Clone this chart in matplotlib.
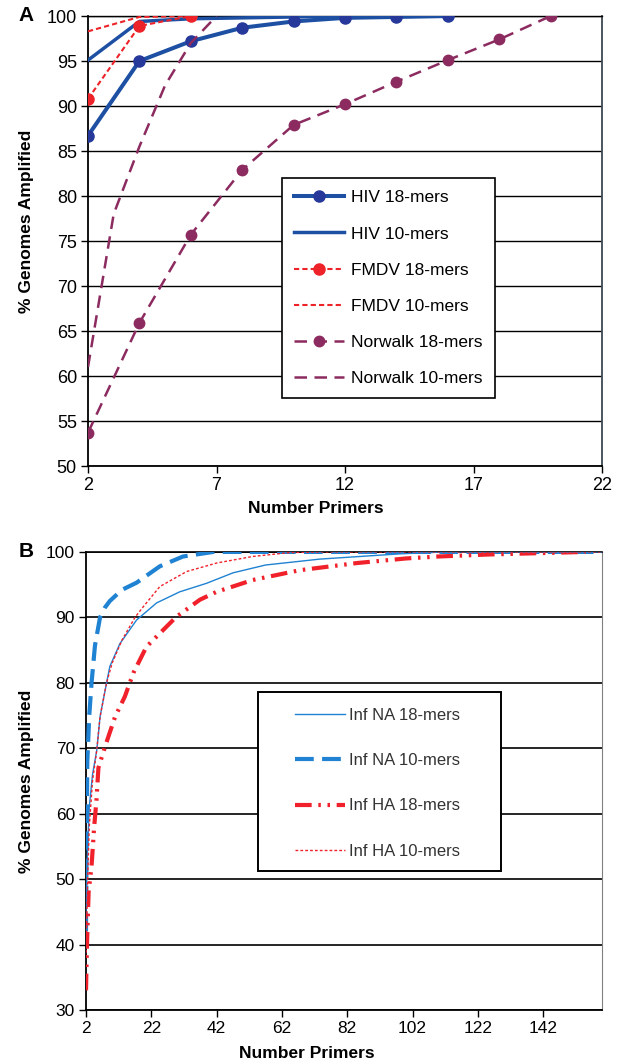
import matplotlib

matplotlib.use("Agg")
import matplotlib.pyplot as plt
from matplotlib.patches import Rectangle
from matplotlib.ticker import FixedLocator

plt.rcParams["font.family"] = ["Liberation Sans", "DejaVu Sans"]

# Panel A data
hiv18_x = [2, 4, 6, 8, 10, 12, 14, 16]
hiv18_y = [86.7, 95.0, 97.2, 98.7, 99.4, 99.8, 99.9, 100.0]
hiv10_x = [2, 4, 6, 8, 10, 12, 14, 16]
hiv10_y = [95.1, 99.4, 99.7, 99.8, 99.9, 100.0, 100.0, 100.0]
fmdv18_x = [2, 4, 6]
fmdv18_y = [90.8, 98.9, 100.0]
fmdv10_x = [2, 4, 6]
fmdv10_y = [98.3, 99.9, 100.0]
nor18_x = [2, 4, 6, 8, 10, 12, 14, 16, 18, 20]
nor18_y = [53.7, 65.9, 75.7, 82.9, 87.9, 90.2, 92.7, 95.1, 97.4, 100.0]
nor10_x = [2, 3, 4, 5, 6, 7]
nor10_y = [61.0, 78.0, 85.5, 92.3, 97.0, 100.0]

# Panel B data
na10_x = [2, 2.1, 2.4, 3.0, 3.7, 4.75, 6.3, 7.8, 9.3, 13, 17.5, 24.6, 31.7, 41, 160]
na10_y = [42, 50, 68, 75, 80, 85.7, 90, 91.5, 92.5, 94.2, 95.3, 97.8, 99.3, 100, 100]
na18_x = [2, 2.5, 3, 4, 5.3, 6.3, 8.3, 9.3, 12.4, 17.5, 23.6, 30.7, 38.9, 47, 57, 73.6, 98, 112, 160]
na18_y = [45, 55, 61, 66, 69.7, 74.8, 80, 82.5, 86, 89.6, 92.2, 93.9, 95.2, 96.8, 98, 98.9, 99.7, 100, 100]
ha10_x = [2, 2.5, 3, 4, 5.3, 6.3, 8.3, 10, 13, 17, 19.5, 24.6, 32.8, 42, 53, 64.4, 75, 160]
ha10_y = [38, 50, 58, 65, 69.7, 74.8, 80, 83, 86.5, 90, 91.6, 94.7, 97, 98.3, 99.3, 99.9, 100, 100]
ha18_x = [2, 2.3, 2.8, 3.7, 4.5, 5.2, 5.8, 7.8, 10.9, 13.9, 16.5, 20.5, 26.7, 29.7, 36.9, 42,
          53, 67.4, 85, 100, 110, 125, 140, 155]
ha18_y = [33, 40, 48, 52, 58, 62, 67, 70.2, 74.8, 77.9, 81.5, 85.5, 88.6, 90.1, 92.7, 93.9,
          95.7, 97.2, 98.3, 99.0, 99.3, 99.6, 99.8, 100]

blue_dark = "#1d4fa3"
blue_marker = "#26389a"
red = "#ee2229"
plum = "#8c2b5f"
blue_b = "#1f82d2"
red_b = "#f0212b"

fig = plt.figure(figsize=(6.25, 10.63), dpi=100)

# ---- Panel A ----
ax = fig.add_axes([0.1408, 0.5616, 0.8224, 0.4233])
ax.plot(hiv18_x, hiv18_y, color=blue_dark, lw=2.9, marker="o", ms=8,
        mfc=blue_marker, mec=blue_marker, label="HIV 18-mers", zorder=5)
ax.plot(hiv10_x, hiv10_y, color=blue_dark, lw=2.5, label="HIV 10-mers", zorder=4)
ax.plot(fmdv18_x, fmdv18_y, color=red, lw=1.5, dashes=(2.5, 1.5), marker="o", ms=8,
        mfc=red, mec=red, label="FMDV 18-mers", zorder=6)
ax.plot(fmdv10_x, fmdv10_y, color=red, lw=1.5, dashes=(2.5, 1.5), label="FMDV 10-mers", zorder=6)
ax.plot(nor18_x, nor18_y, color=plum, lw=1.8, dashes=(5, 3), marker="o", ms=7.5,
        mfc=plum, mec=plum, label="Norwalk 18-mers", zorder=5)
ax.plot(nor10_x, nor10_y, color=plum, lw=1.8, dashes=(5, 3), label="Norwalk 10-mers", zorder=5)

ax.set_xlim(2, 22)
ax.set_ylim(50, 100)
ax.xaxis.set_major_locator(FixedLocator([2, 7, 12, 17, 22]))
ax.yaxis.set_major_locator(FixedLocator(list(range(50, 101, 5))))
ax.grid(axis="y", color="black", lw=1.0)
ax.set_axisbelow(True)
ax.tick_params(labelsize=13, direction="out", length=5, width=1, pad=3)
for side in ["left", "bottom"]:
    ax.spines[side].set_linewidth(1.3)
ax.spines["right"].set_color("#3c4850")
ax.spines["right"].set_linewidth(1.3)
ax.spines["top"].set_linewidth(1.0)

leg = ax.legend(loc="upper left", bbox_to_anchor=(0.377, 0.64), borderaxespad=0,
                fontsize=12.5, frameon=True, fancybox=False, framealpha=1,
                edgecolor="black", handlelength=2.9, labelspacing=1.21,
                borderpad=0.7, handletextpad=0.4)
leg.get_frame().set_linewidth(1.2)

fig.text(0.029, 0.985, "A", fontsize=15, fontweight="bold", ha="left", va="center")
fig.text(0.042, 0.792, "% Genomes Amplified", rotation=90, fontsize=12.5,
         fontweight="bold", ha="center", va="center")
fig.text(0.506, 0.522, "Number Primers", fontsize=12.5, fontweight="bold",
         ha="center", va="center")

# ---- Panel B ----
bx = fig.add_axes([0.1376, 0.0499, 0.8256, 0.4309])
bx.plot(na18_x, na18_y, color=blue_b, lw=1.0, label="Inf NA 18-mers", zorder=4)
bx.plot(na10_x, na10_y, color=blue_b, lw=3.0, dashes=(4.5, 2), label="Inf NA 10-mers", zorder=3)
bx.plot(ha18_x, ha18_y, color=red_b, lw=3.0, dashes=(4, 1.6, 0.6, 1.6, 0.6, 1.6),
        label="Inf HA 18-mers", zorder=3)
bx.plot(ha10_x, ha10_y, color=red_b, lw=1.0, dashes=(2, 1.5), label="Inf HA 10-mers", zorder=5)

bx.set_xlim(2, 160)
bx.set_ylim(30, 100)
bx.xaxis.set_major_locator(FixedLocator(list(range(2, 143, 20))))
bx.yaxis.set_major_locator(FixedLocator(list(range(30, 101, 10))))
bx.grid(axis="y", color="black", lw=1.2)
bx.set_axisbelow(True)
bx.tick_params(labelsize=12.5, direction="out", length=5, width=1, pad=3)
for side in ["left", "bottom"]:
    bx.spines[side].set_linewidth(1.3)
bx.spines["right"].set_color("#808080")
bx.spines["right"].set_linestyle((0, (1, 1)))
bx.spines["top"].set_linewidth(1.2)

# legend box drawn separately so it can be wider than its contents
bx.add_patch(Rectangle((0.3333, 0.3035), 0.4707, 0.3905, transform=bx.transAxes,
                       facecolor="white", edgecolor="black", lw=1.4, zorder=6))
leg_b = bx.legend(loc="upper left", bbox_to_anchor=(0.405, 0.659), borderaxespad=0,
                  fontsize=12, frameon=False, handlelength=3.0, labelspacing=1.81,
                  borderpad=0, handletextpad=0.25)
leg_b.set_zorder(7)
for t in leg_b.get_texts():
    t.set_color("#333333")

fig.text(0.029, 0.481, "B", fontsize=15, fontweight="bold", ha="left", va="center")
fig.text(0.042, 0.265, "% Genomes Amplified", rotation=90, fontsize=12.5,
         fontweight="bold", ha="center", va="center")
fig.text(0.491, 0.009, "Number Primers", fontsize=12.5, fontweight="bold",
         ha="center", va="center")

fig.savefig("out.png", dpi=100)
